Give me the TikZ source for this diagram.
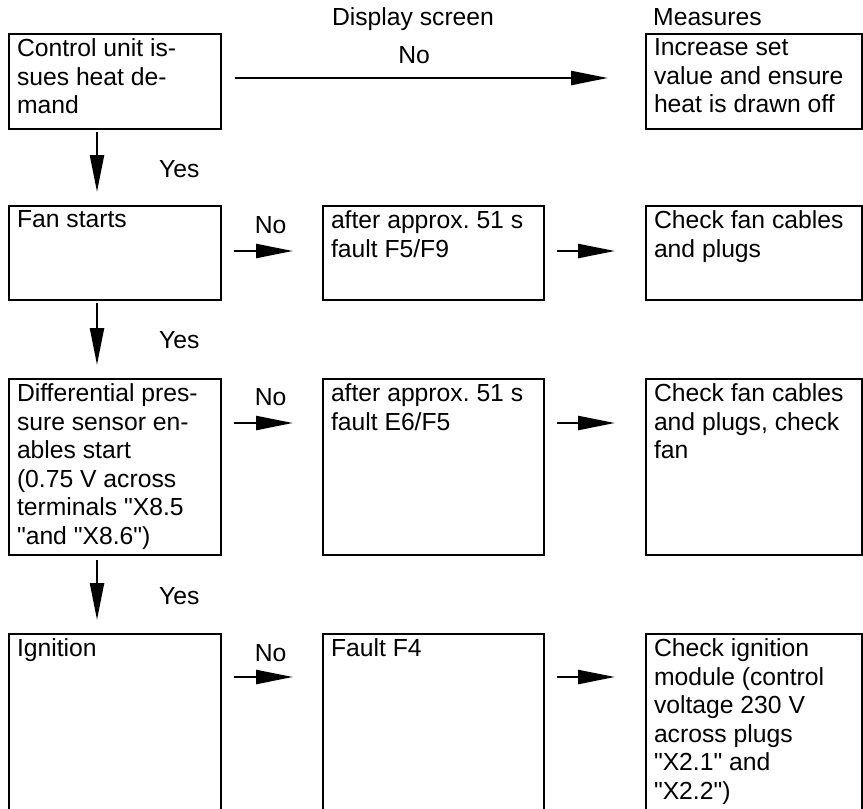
\documentclass[tikz,border=0pt]{standalone}
\usepackage{fontspec}
\setmainfont{Liberation Sans}
\usetikzlibrary{arrows.meta}

\newcommand{\cellbox}[3]{\parbox[t][#2pt][t]{#1pt}{\raggedright #3}}
\newcommand{\qt}{\textquotedbl}
\frenchspacing

\begin{document}
\begin{tikzpicture}[x=1pt,y=-1pt,
    font=\fontsize{24.7pt}{28.5pt}\selectfont,
    box/.style={draw, line width=2pt, inner xsep=8pt, inner ysep=5pt, anchor=north west},
    arr/.style={line width=2.4pt, -{Triangle[length=37pt,width=14pt]}},
    lbl/.style={inner sep=0pt, anchor=base}]

        \useasboundingbox (0,0) rectangle (863,809);
        \clip (0,0) rectangle (863,809);

        % column heads
        \node[lbl] (h1) at (413,25) {Display screen};
        \node[lbl, anchor=base west] (h2) at (653,25) {Measures};

        \begin{scope}[every node/.style={box}]
          \node (1)  at (8,33)    {\cellbox{196}{85}{Control unit is-\\sues heat de-\\mand}};
          \node (2)  at (645,33)  {\cellbox{200}{85}{Increase set\\value and ensure\\heat is drawn off}};
          \node (3)  at (8,205)   {\cellbox{196}{84}{Fan starts}};
          \node (4)  at (322,205) {\cellbox{205}{84}{after approx. 51 s\\fault F5/F9}};
          \node (5)  at (645,205) {\cellbox{200}{84}{Check fan cables\\and plugs}};
          \node (6)  at (8,378)   {\cellbox{196}{166}{Differential pres-\\sure sensor en-\\ables start\\(0.75 V across\\terminals \qt X8.5\\\qt and \qt X8.6\qt)}};
          \node (7)  at (322,378) {\cellbox{205}{166}{after approx. 51 s\\fault E6/F5}};
          \node (8)  at (645,378) {\cellbox{200}{166}{Check fan cables\\and plugs, check\\fan}};
          \node (9)  at (8,633)   {\cellbox{196}{190}{Ignition}};
          \node (10) at (322,633) {\cellbox{205}{190}{Fault F4}};
          \node (11) at (645,633) {\cellbox{200}{190}{Check ignition\\module (control\\voltage 230 V\\across plugs\\\qt X2.1\qt{} and\\\qt X2.2\qt)}};
        \end{scope}

        % yes branch
        \draw[arr] ([xshift=-18pt,yshift=-2pt]1.south) -- ([xshift=-18pt,yshift=13pt]3.north);
        \draw[arr] ([xshift=-18pt,yshift=-2pt]3.south) -- ([xshift=-18pt,yshift=13pt]6.north);
        \draw[arr] ([xshift=-18pt,yshift=-4pt]6.south) -- ([xshift=-18pt,yshift=13pt]9.north);
        \node[lbl, anchor=base west] (y1) at (159,177) {Yes};
        \node[lbl, anchor=base west] (y2) at (159,348) {Yes};
        \node[lbl, anchor=base west] (y3) at (159,604) {Yes};

        % no branches
        \draw[arr] ([xshift=13pt,yshift=-45pt]1.north east) -- node[lbl, pos=.48, yshift=15pt] (n1) {No} ([xshift=-37pt,yshift=-45pt]2.north west);
        \draw[arr] ([xshift=12pt,yshift=-46pt]3.north east) -- node[lbl, pos=.62, yshift=18pt] (n2) {No} ([xshift=-29pt,yshift=-46pt]4.north west);
        \draw[arr] ([xshift=12pt,yshift=-45pt]6.north east) -- node[lbl, pos=.62, yshift=18pt] (n3) {No} ([xshift=-29pt,yshift=-45pt]7.north west);
        \draw[arr] ([xshift=12pt,yshift=-44pt]9.north east) -- node[lbl, pos=.62, yshift=16pt] (n4) {No} ([xshift=-29pt,yshift=-44pt]10.north west);
        \draw[arr] ([xshift=12pt,yshift=-46pt]4.north east) -- ([xshift=-30pt,yshift=-46pt]5.north west);
        \draw[arr] ([xshift=12pt,yshift=-45pt]7.north east) -- ([xshift=-30pt,yshift=-45pt]8.north west);
        \draw[arr] ([xshift=12pt,yshift=-44pt]10.north east) -- ([xshift=-30pt,yshift=-44pt]11.north west);

      \end{tikzpicture}
\end{document}
